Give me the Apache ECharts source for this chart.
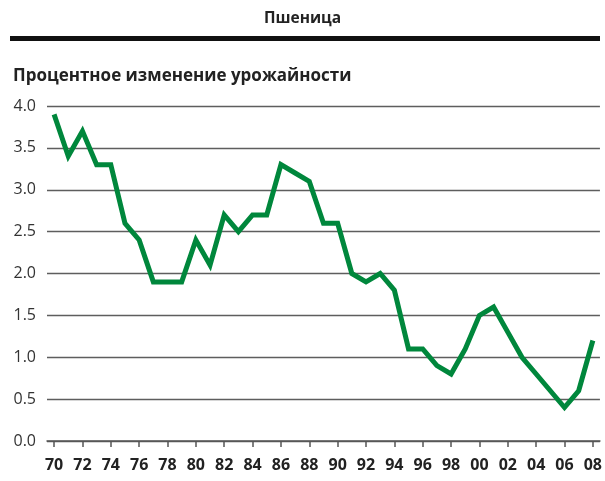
<!DOCTYPE html>
<html>
<head>
<meta charset="utf-8">
<script src="https://cdn.jsdelivr.net/npm/echarts@6/dist/echarts.min.js"></script>
<style>
  html, body { margin:0; padding:0; background:#fff; }
  #chart { width:605px; height:481px; }
</style>
</head>
<body>
<div id="chart"></div>
<script>
  // годы и процентное изменение урожайности
  var years = ['70','71','72','73','74','75','76','77','78','79',
               '80','81','82','83','84','85','86','87','88','89',
               '90','91','92','93','94','95','96','97','98','99',
               '00','01','02','03','04','05','06','07','08'];
  var yieldChange = [3.9,3.4,3.7,3.3,3.3,2.6,2.4,1.9,1.9,1.9,
                     2.4,2.1,2.7,2.5,2.7,2.7,3.3,3.2,3.1,2.6,
                     2.6,2.0,1.9,2.0,1.8,1.1,1.1,0.9,0.8,1.1,
                     1.5,1.6,1.3,1.0,0.8,0.6,0.4,0.6,1.2];

  var myChart = echarts.init(document.getElementById('chart'));
  myChart.setOption({
    backgroundColor:'#fff',
    animation:false,
    textStyle:{ fontFamily:'Open Sans' },
    title:[
      {
        text:'Пшеница',
        left:'center',
        top:6,
        textStyle:{ fontSize:15.5, fontWeight:'bold', color:'#222', fontFamily:'Open Sans' }
      },
      {
        text:'Процентное изменение урожайности',
        left:8,
        top:63,
        textStyle:{ fontSize:17, fontWeight:'bold', color:'#222', fontFamily:'Open Sans' }
      }
    ],
    graphic:[
      {
        type:'rect',
        shape:{ x:10, y:36, width:590, height:5 },
        style:{ fill:'#111' }
      }
    ],
    grid:{
      left:47,
      right:5,
      top:106,
      bottom:40
    },
    xAxis:{
      type:'category',
      data:years,
      boundaryGap:true,
      axisLine:{ show:true, lineStyle:{ color:'#555', width:1.5 } },
      axisTick:{ show:true, alignWithLabel:true, interval:1, length:6, lineStyle:{ color:'#555', width:1.5 } },
      axisLabel:{ interval:1, margin:16, fontSize:16, fontWeight:'bold', color:'#222' }
    },
    yAxis:{
      type:'value',
      min:0,
      max:4,
      interval:0.5,
      axisLine:{ show:false },
      axisTick:{ show:false },
      axisLabel:{
        margin:11,
        fontSize:16,
        color:'#333',
        formatter:function(v){ return v.toFixed(1); }
      },
      splitLine:{ show:true, lineStyle:{ color:'#5e5e5e', width:1.3 } }
    },
    series:[
      {
        type:'line',
        data:yieldChange,
        symbol:'none',
        lineStyle:{ color:'#00873c', width:5, join:'miter' },
        itemStyle:{ color:'#00873c' }
      }
    ]
  });
</script>
</body>
</html>
